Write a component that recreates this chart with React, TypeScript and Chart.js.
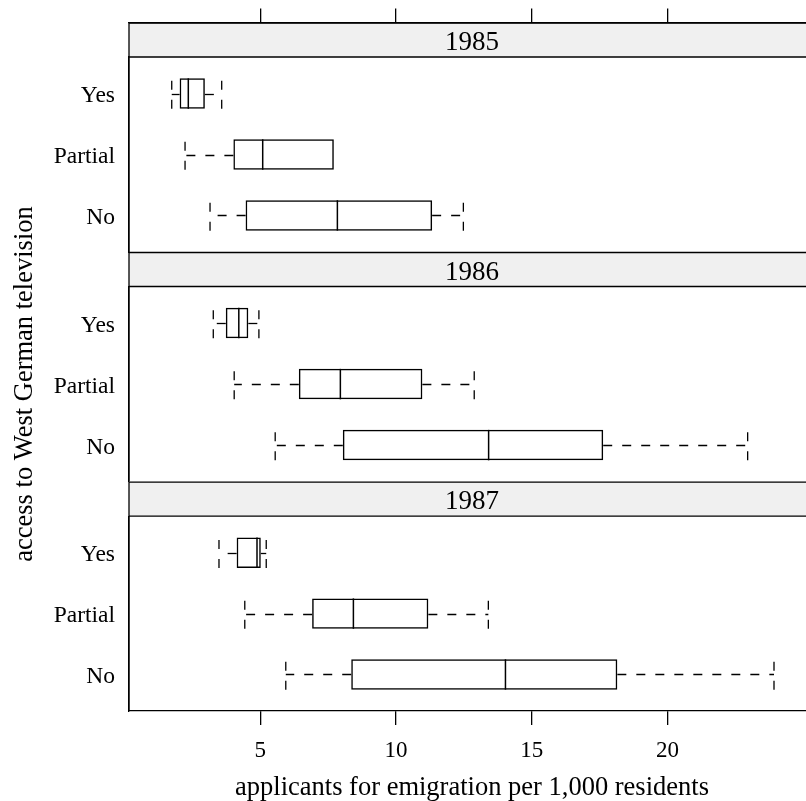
import { useEffect, useRef } from "react";
import { Chart, registerables } from "chart.js";

Chart.register(...registerables);

// ---- data ----
const categories = ["Yes", "Partial", "No"];
const years = ["1985", "1986", "1987"];

// five-number summaries, in the order of `categories`
const low1985 = [1.74, 2.23, 3.15];
const q1_1985 = [2.03, 4.01, 4.46];
const med1985 = [2.35, 5.09, 7.84];
const q3_1985 = [2.96, 7.71, 11.33];
const high1985 = [3.58, 7.71, 12.48];

const low1986 = [3.27, 4.04, 5.55];
const q1_1986 = [3.73, 6.42, 8.04];
const med1986 = [4.21, 7.95, 13.41];
const q3_1986 = [4.56, 10.97, 17.63];
const high1986 = [4.95, 12.88, 22.95];

const low1987 = [3.48, 4.43, 5.94];
const q1_1987 = [4.13, 6.91, 8.35];
const med1987 = [4.88, 8.43, 14.03];
const q3_1987 = [5.02, 11.19, 18.15];
const high1987 = [5.22, 13.4, 23.92];

const xTicks = [5, 10, 15, 20];
const xLabel = "applicants for emigration per 1,000 residents";
const yLabel = "access to West German television";

const panels = [
  { year: years[0], low: low1985, q1: q1_1985, med: med1985, q3: q3_1985, high: high1985 },
  { year: years[1], low: low1986, q1: q1_1986, med: med1986, q3: q3_1986, high: high1986 },
  { year: years[2], low: low1987, q1: q1_1987, med: med1987, q3: q3_1987, high: high1987 },
];

// ---- layout / styling ----
const FONT = "'Liberation Serif', 'Times New Roman', Times, serif";
const W = 830;
const H = 801;
const X_MIN = 0.166;
const X_MAX = 25.43;
const AXIS_W = 129;
const DASH = [9, 10];
const STRIP_TOP = [0, 252, 481.7]; // layout padding top of each panel's canvas
const PANEL_BOTTOM = [252, 481.7, 711];
const STRIP_H = 34.5;
const STRIP_FONT = 27;
const STRIP_PAD_TOP = 7;

const catPos = (i: number) => categories.length - i;

function makePlugin(k: number) {
  const p = panels[k];
  return {
    id: "lattice" + k,
    beforeDraw(chart: any) {
      const { ctx, chartArea } = chart;
      const t = chart.titleBlock;
      ctx.save();
      ctx.fillStyle = "#f0f0f0";
      ctx.fillRect(chartArea.left, t.top, chartArea.right - chartArea.left, t.bottom - t.top);
      ctx.restore();
    },
    afterDatasetsDraw(chart: any) {
      const { ctx, chartArea } = chart;
      const t = chart.titleBlock;
      const xs = chart.scales.x;
      ctx.save();
      ctx.strokeStyle = "#000";
      // strip outline
      ctx.lineWidth = 1.3;
      ctx.setLineDash([]);
      ctx.beginPath();
      ctx.moveTo(chartArea.left, t.top + 0.5);
      ctx.lineTo(chartArea.right, t.top + 0.5);
      ctx.moveTo(chartArea.left, t.bottom);
      ctx.lineTo(chartArea.right, t.bottom);
      ctx.moveTo(chartArea.left, t.top);
      ctx.lineTo(chartArea.left, chartArea.bottom);
      ctx.stroke();
      // medians, whiskers, caps
      const meta = chart.getDatasetMeta(0);
      meta.data.forEach((el: any, i: number) => {
        const { y, height } = el.getProps(["y", "height"], true);
        const top = y - height / 2;
        const bot = y + height / 2;
        const xm = xs.getPixelForValue(p.med[i]);
        const xq1 = xs.getPixelForValue(p.q1[i]);
        const xq3 = xs.getPixelForValue(p.q3[i]);
        const xlo = xs.getPixelForValue(p.low[i]);
        const xhi = xs.getPixelForValue(p.high[i]);
        ctx.lineWidth = 1.5;
        ctx.setLineDash([]);
        ctx.beginPath();
        ctx.moveTo(xm, top);
        ctx.lineTo(xm, bot);
        ctx.stroke();
        ctx.lineWidth = 1.3;
        ctx.setLineDash(DASH);
        const yc = Math.round(y) + 0.5;
        if (p.low[i] < p.q1[i]) {
          ctx.beginPath();
          ctx.moveTo(xq1, yc);
          ctx.lineTo(xlo, yc);
          ctx.stroke();
          ctx.beginPath();
          ctx.moveTo(xlo, bot);
          ctx.lineTo(xlo, top);
          ctx.stroke();
        }
        if (p.high[i] > p.q3[i]) {
          ctx.beginPath();
          ctx.moveTo(xq3, yc);
          ctx.lineTo(xhi, yc);
          ctx.stroke();
          ctx.beginPath();
          ctx.moveTo(xhi, bot);
          ctx.lineTo(xhi, top);
          ctx.stroke();
        }
      });
      ctx.restore();
    },
    afterDraw(chart: any) {
      if (k !== 0) return;
      const { ctx } = chart;
      ctx.save();
      ctx.translate(32, 384);
      ctx.rotate(-Math.PI / 2);
      ctx.fillStyle = "#000";
      ctx.font = `26.5px ${FONT}`;
      ctx.textAlign = "center";
      ctx.textBaseline = "alphabetic";
      ctx.fillText(yLabel, 0, 0);
      ctx.restore();
    },
  };
}

function buildChart(canvas: HTMLCanvasElement, k: number) {
  const p = panels[k];
  const first = k === 0;
  const last = k === panels.length - 1;
  const xTickBuilder = (s: any) => {
    s.ticks = xTicks.map((v) => ({ value: v }));
  };
  const scales: any = {
    x: {
      type: "linear",
      position: "bottom",
      display: last,
      min: X_MIN,
      max: X_MAX,
      afterBuildTicks: xTickBuilder,
      grid: { display: true, drawOnChartArea: false, drawTicks: true, tickLength: 14, color: "#000", lineWidth: 1.3 },
      border: { display: true, color: "#000", width: 1.3 },
      ticks: { color: "#000", font: { family: FONT, size: 23 }, padding: 12, maxRotation: 0 },
      title: {
        display: true,
        text: xLabel,
        color: "#000",
        font: { family: FONT, size: 26.5, lineHeight: 1 },
        padding: { top: 0, bottom: 0 },
      },
      afterFit: (s: any) => {
        s.height = last ? 90 : 0;
      },
    },
    y: {
      type: "linear",
      position: "left",
      offset: false,
      min: 0.4,
      max: 3.6,
      afterBuildTicks: (s: any) => {
        s.ticks = categories.map((_, i) => ({ value: catPos(i) }));
      },
      grid: { display: false, drawTicks: false, offset: false },
      border: { display: true, color: "#000", width: 1.3 },
      ticks: {
        color: "#000",
        font: { family: FONT, size: 23.5 },
        padding: 14,
        labelOffset: 2.5,
        callback: (v: number) => categories[categories.length - v] ?? "",
      },
      afterFit: (s: any) => {
        s.width = AXIS_W;
      },
    },
  };
  if (first) {
    scales.xTop = {
      type: "linear",
      position: "top",
      weight: 3000,
      min: X_MIN,
      max: X_MAX,
      afterBuildTicks: xTickBuilder,
      grid: { display: true, drawOnChartArea: false, drawTicks: true, tickLength: 14, color: "#000", lineWidth: 1.3 },
      border: { display: true, color: "#000", width: 1.3 },
      ticks: { display: false },
      afterFit: (s: any) => {
        s.height = 22.5;
      },
    };
  }
  const padTop = STRIP_TOP[k];
  const padBottom = last ? 0 : H - PANEL_BOTTOM[k];

  return new Chart(canvas, {
    type: "bar",
    data: {
      datasets: [
        {
          type: "bar",
          label: p.year,
          xAxisID: "x",
          yAxisID: "y",
          data: categories.map((_, i) => ({ x: [p.q1[i], p.q3[i]], y: catPos(i) })),
          backgroundColor: "rgba(255,255,255,0)",
          borderColor: "#000",
          borderWidth: 1.5,
          borderSkipped: false,
          barPercentage: 0.5,
          categoryPercentage: 1,
        },
      ],
    } as any,
    options: {
      indexAxis: "y",
      responsive: false,
      animation: false,
      devicePixelRatio: 1,
      layout: { padding: { left: 0, right: W - 815, top: padTop, bottom: padBottom } },
      plugins: {
        legend: { display: false },
        tooltip: { enabled: false },
        title: {
          display: true,
          text: p.year,
          fullSize: false,
          position: "top",
          color: "#000",
          font: { family: FONT, size: STRIP_FONT, weight: "normal", lineHeight: 1 },
          padding: { top: STRIP_PAD_TOP, bottom: STRIP_H - STRIP_FONT - STRIP_PAD_TOP },
        },
      },
      scales,
    } as any,
    plugins: [makePlugin(k)],
  });
}

export default function App() {
  const r0 = useRef<HTMLCanvasElement | null>(null);
  const r1 = useRef<HTMLCanvasElement | null>(null);
  const r2 = useRef<HTMLCanvasElement | null>(null);

  useEffect(() => {
    const refs = [r0, r1, r2];
    const charts = refs.map((r, k) => (r.current ? buildChart(r.current, k) : null));
    return () => charts.forEach((c) => c && c.destroy());
  }, []);

  const cs: any = { position: "absolute", left: 0, top: 0, width: W, height: H, display: "block" };
  return (
    <div style={{ position: "absolute", left: 0, top: 0, width: 806, height: H, overflow: "hidden", background: "#fff" }}>
      <canvas ref={r0} width={W} height={H} style={cs} />
      <canvas ref={r1} width={W} height={H} style={cs} />
      <canvas ref={r2} width={W} height={H} style={cs} />
    </div>
  );
}
